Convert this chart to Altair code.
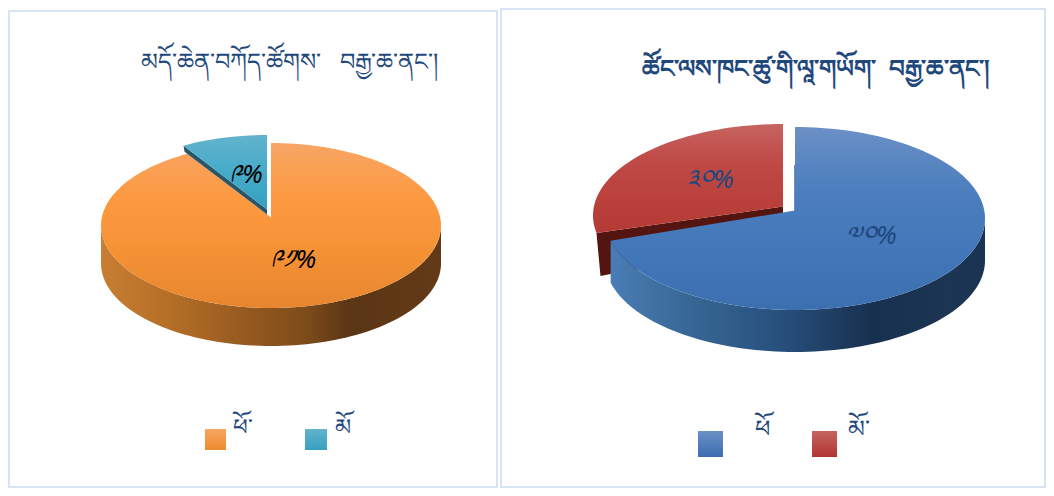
import math
import altair as alt

# ---- values ----
left_title = "མདོ་ཆེན་བཀོད་ཚོགས་\u00a0\u00a0\u00a0བརྒྱ་ཆ་ནང་།"
right_title = "ཚོང་ལས་ཁང་ཚུ་གི་ལཱ་གཡོག་\u00a0\u00a0བརྒྱ་ཆ་ནང་།"
categories_left = ["ཕོ་", "མོ"]
categories_right = ["ཕོ", "མོ་"]
shares_left = [91, 9]
shares_right = [70, 30]
labels_left = ["༩༡%", "༩%"]
labels_right = ["༧༠%", "༣༠%"]

FONT = "Noto Sans"
TITLE = "#1f497d"
BORDER = "#d6e4f5"

W = 1038
H = 480
SX = alt.Scale(domain=[8, 8 + W], nice=False, zero=False)
SY = alt.Scale(domain=[8 + H, 8], nice=False, zero=False)


def grad_v(*stops):
    n = len(stops) - 1
    return alt.Gradient(gradient="linear", x1=0, y1=0, x2=0, y2=1,
                        stops=[alt.GradientStop(offset=i / n, color=c) for i, c in enumerate(stops)])


def grad_h(*stops):
    return alt.Gradient(gradient="linear", x1=0, y1=0, x2=1, y2=0,
                        stops=[alt.GradientStop(offset=o, color=c) for o, c in stops])


def arc_pts(cx, cy, rx, ry, a0, a1, dy=0):
    """Ellipse points; angles in degrees clockwise from twelve o'clock."""
    n = max(2, int(abs(a1 - a0) / 2))
    return [(cx + rx * math.sin(math.radians(a0 + (a1 - a0) * k / n)),
             cy - ry * math.cos(math.radians(a0 + (a1 - a0) * k / n)) + dy) for k in range(n + 1)]


def poly(pts, fill):
    rows = [{"x": p[0], "y": p[1], "i": i} for i, p in enumerate(pts + pts[:1])]
    return alt.Chart(alt.Data(values=rows)).mark_line(fill=fill, stroke="transparent", strokeWidth=0).encode(
        x=alt.X("x:Q", scale=SX, axis=None),
        y=alt.Y("y:Q", scale=SY, axis=None),
        order=alt.Order("i:Q"),
    )


def text(s, x, y, size, color=TITLE, bold=False, italic=False):
    return alt.Chart(alt.Data(values=[{"t": s, "x": x, "y": y}])).mark_text(
        font=FONT, fontSize=size, color=color, align="center", baseline="middle",
        fontWeight="bold" if bold else "normal", fontStyle="italic" if italic else "normal",
    ).encode(x=alt.X("x:Q", scale=SX, axis=None), y=alt.Y("y:Q", scale=SY, axis=None), text="t:N")


def box(x0, x1, y0, y1, **kw):
    return alt.Chart(alt.Data(values=[{"a": x0, "b": x1, "c": y0, "d": y1}])).mark_rect(**kw).encode(
        x=alt.X("a:Q", scale=SX, axis=None), x2="b:Q",
        y=alt.Y("c:Q", scale=SY, axis=None), y2="d:Q",
    )


# ---- left pie ----
cx, cy, rx, ry, depth = 271, 225.5, 170, 82.5, 38
cut = 360 * shares_left[0] / sum(shares_left) + 3  # perspective of the tilted pie
apex = (cx, cy - 8)
wall_l = arc_pts(cx, cy, rx, ry, 90, 270) + arc_pts(cx, cy, rx, ry, 270, 90, depth)
orange_top = [apex] + arc_pts(cx, cy, rx, ry, 0, cut)
bx, by = cx - 4, cy - 8
blue_top = [(bx, by - 8)] + arc_pts(bx, by, rx, ry, cut, 360)
corner = blue_top[1]
blue_dark = [(bx, by - 8), (bx, by - 3), (corner[0] + 1, corner[1] + 6), corner]

left = [
    box(9, 497, 11, 487, fill="white", stroke=BORDER, strokeWidth=2),
    poly(wall_l, grad_h((0, "#c77e33"), (0.2, "#b56f26"), (0.45, "#925820"), (0.6, "#7d4c1a"),
                        (0.73, "#5b3614"), (1, "#633a18"))),
    poly(orange_top, grad_v("#f7a565", "#fd9a41", "#f59135", "#e6862f")),
    poly(blue_dark, "#27566a"),
    poly(blue_top, grad_v("#63b3cc", "#45abc9", "#36a0c0")),
    text(left_title, 289.5, 63, 24),
    text(labels_left[1], 246, 175, 26, color="#000000", italic=True),
    text(labels_left[0], 293, 260, 26, color="#000000", italic=True),
    box(205, 226, 429, 450, fill=grad_v("#f9a661", "#ed8a2f")),
    box(305, 327, 429, 450, fill=grad_v("#63b3cc", "#36a0c0")),
    text(categories_left[0], 243, 428, 23),
    text(categories_left[1], 343, 428, 23),
]

# ---- right pie ----
cx, cy, rx, ry, depth = 795, 218.5, 190, 91.5, 42
cut = 360 * shares_right[0] / sum(shares_right)
apex = (cx, cy - 8)
wall_b = arc_pts(cx, cy, rx, ry, 90, cut + 4) + arc_pts(cx, cy, rx, ry, cut + 4, 90, depth)
blue = [apex] + arc_pts(cx, cy, rx, ry, 0, cut + 4)
bx, by = cx - 12, cy - 3
red_top = [(bx, by - 9)] + arc_pts(bx, by, rx, ry, cut + 7, 360)
corner = red_top[1]
red_dark = [(bx, by - 9), corner, (corner[0] + 4, corner[1] + 43), (corner[0] + 14, corner[1] + 41), (bx, by + 30)]

right = [
    box(501, 1045, 9, 487, fill="white", stroke=BORDER, strokeWidth=2),
    poly(red_dark, "#54140f"),
    poly(red_top, grad_v("#c76460", "#bf4a46", "#bb413c", "#b43a36")),
    poly(wall_b, grad_h((0, "#4a7db5"), (0.2, "#386896"), (0.45, "#28507d"), (0.7, "#17304f"),
                        (0.9, "#1c3553"), (1, "#1a3352"))),
    poly(blue, grad_v("#6b90c6", "#4d7fbe", "#4277b9", "#3c6fb0")),
    box(794, 795, 165, 211, fill="#6f8db8"),
    text(right_title, 815.5, 70, 24.6, bold=True),
    text(labels_right[1], 710, 180, 26, italic=True),
    text(labels_right[0], 871, 236, 26, italic=True),
    box(698, 723, 431, 457, fill=grad_v("#6b90c6", "#3b6db0")),
    box(812, 837, 431, 457, fill=grad_v("#c56460", "#b03431")),
    text(categories_right[0], 762, 430, 24),
    text(categories_right[1], 859, 430, 24),
]

chart = alt.layer(*left, *right).properties(
    width=W, height=H, padding=0, background="white",
    autosize=alt.AutoSizeParams(type="none"),
).configure_view(stroke=None)
chart.save("out.html", embed_options={"renderer": "svg", "actions": False})
